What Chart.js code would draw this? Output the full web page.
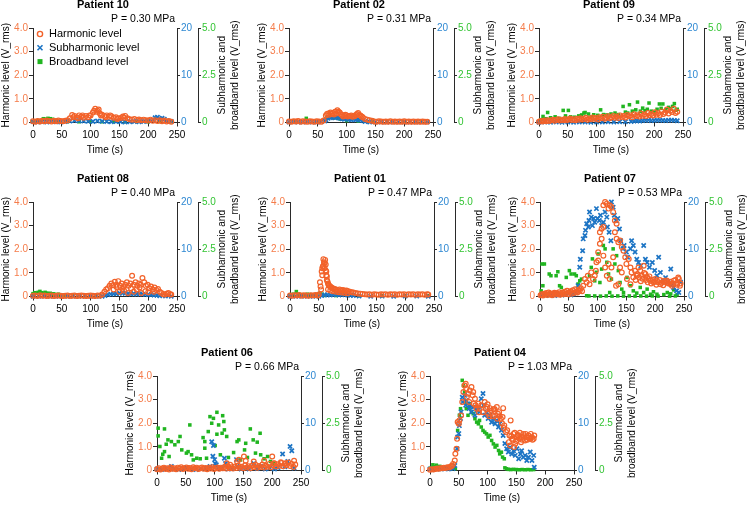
<!DOCTYPE html>
<html>
<head>
<meta charset="utf-8">
<script src="https://cdn.jsdelivr.net/npm/chart.js@4.4.1/dist/chart.umd.min.js"></script>
<style>
  body { margin: 0; background: #fff; width: 747px; height: 505px; position: relative; overflow: hidden; }
  .panel { position: absolute; width: 246px; height: 156px; }
</style>
</head>
<body>
<div class="panel" style="left:0px;top:0px"><canvas id="p10" width="246" height="156"></canvas></div>
<div class="panel" style="left:256px;top:0px"><canvas id="p02" width="246" height="156"></canvas></div>
<div class="panel" style="left:506px;top:0px"><canvas id="p09" width="246" height="156"></canvas></div>
<div class="panel" style="left:0px;top:174px"><canvas id="p08" width="246" height="156"></canvas></div>
<div class="panel" style="left:257px;top:174px"><canvas id="p01" width="246" height="156"></canvas></div>
<div class="panel" style="left:507px;top:174px"><canvas id="p07" width="246" height="156"></canvas></div>
<div class="panel" style="left:124px;top:348px"><canvas id="p06" width="246" height="156"></canvas></div>
<div class="panel" style="left:397px;top:348px"><canvas id="p04" width="246" height="156"></canvas></div>
<script>
// tick labels of the three y axes and the time axis
const harmTicks = ['0', '1.0', '2.0', '3.0', '4.0'];
const subTicks = ['0', '10', '20'];
const broadTicks = ['0', '2.5', '5.0'];
const timeTicks = ['0', '50', '100', '150', '200', '250'];

// [time (s), level]
// Patient 10
const p10Harm = [[0,0.05],[4,0.03],[8,0.06],[12,0.04],[16,0.07],[20,0.05],[24,0.08],[28,0.06],[32,0.04],[36,0.07],[40,0.05],[44,0.08],[48,0.06],[52,0.05],[56,0.07],[60,0.09],[64,0.18],[68,0.32],[72,0.28],[76,0.22],[80,0.30],[84,0.25],[88,0.20],[92,0.27],[96,0.22],[100,0.30],[104,0.42],[108,0.58],[112,0.50],[116,0.38],[120,0.33],[124,0.28],[128,0.30],[132,0.24],[136,0.26],[140,0.20],[144,0.22],[148,0.17],[152,0.19],[156,0.25],[160,0.28],[164,0.18],[168,0.14],[172,0.12],[176,0.15],[180,0.10],[184,0.13],[188,0.09],[192,0.12],[196,0.10],[200,0.08],[204,0.12],[208,0.07],[212,0.10],[216,0.06],[220,0.09],[224,0.05],[228,0.08],[232,0.04],[236,0.06],[240,0.03],
  [70,0.22],[78,0.18],[86,0.3],[98,0.3],[106,0.5],[110,0.45],[114,0.55],[118,0.3],[126,0.22],[134,0.3],[146,0.15],[158,0.2]];
const p10Sub = [[0,0.2],[8,0.1],[16,0.15],[24,0.1],[32,0.2],[40,0.15],[48,0.1],[56,0.2],[64,0.3],[72,0.4],[80,0.35],[88,0.3],[96,0.25],[104,0.2],[112,0.3],[120,0.25],[128,0.2],[136,0.15],[144,0.2],[152,0.15],[160,0.1],[168,0.15],[176,0.2],[184,0.15],[192,0.2],[200,0.3],[208,0.6],[212,1.0],[216,1.1],[220,0.8],[224,0.9],[228,0.7],[232,0.4],[240,0.2]];
const p10Broad = [[0,0.05],[6,0.08],[12,0.1],[18,0.2],[22,0.18],[26,0.22],[30,0.2],[34,0.17],[38,0.12],[44,0.06],[60,0.05],[80,0.04],[100,0.05],[120,0.04],[140,0.05],[160,0.04],[180,0.05],[200,0.04],[220,0.05],[240,0.04]];

// Patient 02
const p02Harm = [[0,0.04],[4,0.03],[8,0.05],[12,0.04],[16,0.06],[20,0.03],[24,0.05],[28,0.04],[32,0.03],[36,0.05],[40,0.04],[44,0.03],[48,0.05],[52,0.04],[56,0.03],[60,0.08],[64,0.30],[68,0.38],[72,0.42],[76,0.40],[80,0.45],[84,0.52],[88,0.42],[92,0.32],[96,0.28],[100,0.30],[104,0.27],[108,0.30],[112,0.28],[116,0.32],[120,0.40],[124,0.30],[128,0.22],[132,0.15],[136,0.12],[140,0.10],[144,0.07],[148,0.04],[152,0.03],[156,0.05],[160,0.04],[164,0.03],[168,0.04],[172,0.03],[176,0.05],[180,0.03],[184,0.04],[188,0.03],[192,0.04],[196,0.03],[200,0.05],[204,0.03],[208,0.04],[212,0.03],[216,0.04],[220,0.03],[224,0.04],[228,0.03],[232,0.04],[236,0.03],[240,0.03],
  [66,0.36],[70,0.33],[74,0.36],[78,0.34],[82,0.38],[86,0.45],[90,0.35],[94,0.25],[98,0.33],[102,0.25],[106,0.28],[110,0.24],[114,0.26],[118,0.36],[122,0.32],[126,0.25]];
const p02Sub = [[0,0.1],[8,0.15],[16,0.1],[24,0.1],[32,0.15],[40,0.1],[48,0.1],[56,0.15],[62,0.3],[64,0.6],[68,0.9],[72,1.0],[76,1.1],[80,1.0],[84,1.1],[88,0.9],[92,0.8],[96,0.7],[100,0.8],[104,0.7],[108,0.6],[112,0.7],[116,0.6],[120,0.7],[124,0.5],[128,0.4],[132,0.2],[140,0.1],[150,0.1],[160,0.1],[170,0.1],[180,0.1],[190,0.1],[200,0.1],[210,0.1],[220,0.1],[230,0.1],[240,0.1]];
const p02Broad = [[10,0.08],[30,0.22],[50,0.06],[66,0.25],[70,0.3],[74,0.28],[78,0.25],[82,0.3],[86,0.22],[90,0.18],[100,0.1],[120,0.08],[145,0.12],[170,0.05],[200,0.05],[230,0.05]];

// Patient 09
const p09Harm = [[0,0.03],[3,0.06],[6,0.04],[9,0.08],[12,0.05],[15,0.1],[18,0.06],[21,0.09],[24,0.12],[27,0.07],[30,0.11],[33,0.14],[36,0.08],[39,0.12],[42,0.1],[45,0.15],[48,0.09],[51,0.13],[54,0.17],[57,0.11],[60,0.14],[63,0.1],[66,0.16],[69,0.12],[72,0.18],[75,0.13],[78,0.15],[81,0.2],[84,0.12],[87,0.17],[90,0.14],[93,0.21],[96,0.16],[99,0.19],[102,0.13],[105,0.22],[108,0.18],[111,0.24],[114,0.16],[117,0.2],[120,0.26],[123,0.18],[126,0.22],[129,0.28],[132,0.2],[135,0.25],[138,0.19],[141,0.3],[144,0.23],[147,0.27],[150,0.21],[153,0.32],[156,0.26],[159,0.3],[162,0.22],[165,0.35],[168,0.27],[171,0.31],[174,0.25],[177,0.38],[180,0.29],[183,0.34],[186,0.27],[189,0.4],[192,0.31],[195,0.36],[198,0.3],[201,0.43],[204,0.33],[207,0.39],[210,0.32],[213,0.47],[216,0.36],[219,0.42],[222,0.55],[225,0.38],[228,0.5],[231,0.44],[234,0.58],[237,0.4],[240,0.46]];
const p09Sub = [[0,0.05],[10,0.1],[20,0.05],[30,0.1],[40,0.05],[50,0.1],[60,0.05],[70,0.1],[80,0.1],[90,0.05],[100,0.1],[110,0.1],[120,0.15],[130,0.1],[140,0.15],[150,0.15],[160,0.2],[165,0.3],[170,0.35],[175,0.3],[180,0.4],[185,0.45],[190,0.5],[195,0.4],[200,0.45],[205,0.5],[210,0.5],[215,0.45],[220,0.4],[225,0.5],[230,0.5],[235,0.45],[240,0.35]];
const p09Broad = [[3,0.15],[7,0.32],[12,0.2],[15,0.53],[20,0.25],[28,0.3],[35,0.22],[42,0.64],[46,0.35],[51,0.64],[55,0.3],[62,0.28],[69,0.35],[74,0.4],[78,0.5],[80,0.53],[86,0.45],[92,0.3],[95,0.41],[102,0.38],[107,0.67],[112,0.42],[118,0.4],[125,0.45],[132,0.5],[138,0.42],[146,0.85],[150,0.55],[154,0.5],[157,0.94],[162,0.6],[168,0.67],[171,1.08],[176,0.6],[180,0.76],[184,0.62],[188,0.7],[191,1.03],[195,0.6],[200,0.55],[205,0.7],[209,0.98],[212,0.75],[215,0.98],[220,0.68],[225,0.8],[228,0.72],[232,0.85],[235,1.0],[238,0.65],[240,0.7]];

// Patient 08
const p08Harm = [[0,0.03],[4,0.04],[8,0.02],[12,0.05],[16,0.03],[20,0.04],[24,0.02],[28,0.03],[32,0.04],[36,0.02],[40,0.03],[44,0.04],[48,0.03],[52,0.02],[56,0.03],[60,0.04],[64,0.02],[68,0.03],[72,0.04],[76,0.02],[80,0.03],[84,0.04],[88,0.03],[92,0.02],[96,0.03],[100,0.04],[104,0.03],[108,0.02],[112,0.04],[116,0.03],[120,0.08],[124,0.2],[127,0.3],[130,0.35],[133,0.45],[136,0.55],[139,0.48],[142,0.62],[145,0.5],[148,0.65],[151,0.45],[154,0.55],[157,0.4],[160,0.5],[163,0.6],[166,0.45],[169,0.55],[172,0.88],[175,0.5],[178,0.6],[181,0.45],[184,0.55],[187,0.5],[190,0.78],[193,0.6],[196,0.45],[199,0.5],[202,0.35],[205,0.42],[208,0.3],[211,0.38],[214,0.28],[217,0.32],[220,0.2],[223,0.15],[226,0.1],[229,0.08],[232,0.12],[235,0.15],[238,0.1],[240,0.08],
  [140,0.3],[145,0.4],[150,0.2],[155,0.32],[158,0.25],[165,0.15],[170,0.35],[175,0.2],[180,0.3],[185,0.38],[188,0.15],[195,0.22],[200,0.18],[210,0.2]];
const p08Sub = [[0,0.05],[10,0.05],[20,0.05],[30,0.05],[40,0.05],[50,0.05],[60,0.05],[70,0.05],[80,0.05],[90,0.05],[100,0.05],[110,0.05],[120,0.05],[125,0.2],[130,0.4],[135,0.5],[140,0.6],[145,0.6],[150,0.7],[155,0.75],[160,0.7],[165,0.6],[170,0.55],[175,0.6],[180,0.5],[185,0.55],[190,0.5],[195,0.45],[200,0.4],[205,0.35],[210,0.3],[215,0.25],[220,0.15],[230,0.1],[240,0.05]];
const p08Broad = [[0,0.15],[3,0.2],[6,0.18],[9,0.22],[12,0.27],[15,0.2],[18,0.17],[21,0.22],[24,0.18],[27,0.15],[30,0.17],[33,0.12],[36,0.14],[40,0.1],[44,0.12],[48,0.08],[55,0.05],[70,0.04],[90,0.04],[110,0.04]];

// Patient 01
const p01Harm = [[0,0.04],[4,0.03],[8,0.05],[12,0.04],[16,0.06],[20,0.03],[24,0.05],[28,0.04],[32,0.03],[36,0.05],[40,0.04],[44,0.06],[48,0.04],[50,0.08],[52,0.6],[53,0.42],[54,0.3],[55,1.06],[56,1.2],[57,1.27],[58,1.58],[59,1.45],[60,1.41],[61,1.55],[62,1.35],[63,1.06],[64,0.85],[65,0.64],[66,0.55],[67,0.5],[68,0.45],[70,0.42],[72,0.38],[74,0.35],[76,0.33],[78,0.31],[80,0.3],[83,0.28],[86,0.3],[89,0.26],[92,0.27],[95,0.24],[98,0.25],[101,0.22],[104,0.2],[107,0.18],[110,0.17],[114,0.15],[118,0.13],[122,0.12],[126,0.11],[130,0.1],[134,0.08],[138,0.09],[142,0.07],[146,0.1],[150,0.08],[154,0.07],[158,0.09],[162,0.08],[166,0.1],[170,0.07],[174,0.09],[178,0.08],[182,0.1],[186,0.07],[190,0.09],[194,0.08],[198,0.1],[202,0.07],[206,0.09],[210,0.08],[214,0.1],[218,0.07],[222,0.09],[226,0.08],[230,0.1],[234,0.07],[238,0.09],[240,0.08],
  [56,0.9],[58,1.3],[60,1.2],[62,1.1],[63,0.9],[64,0.7],[66,0.3],[70,0.25],[75,0.22],[80,0.2],[85,0.18],[90,0.17],[95,0.15],[100,0.14]];
const p01Sub = [[0,0.05],[10,0.05],[20,0.05],[30,0.05],[40,0.05],[50,0.05],[55,0.2],[60,0.3],[65,0.35],[70,0.3],[75,0.4],[80,0.35],[85,0.3],[90,0.4],[95,0.35],[100,0.3],[105,0.25],[110,0.2],[120,0.1],[140,0.05],[160,0.08],[180,0.05],[200,0.1],[220,0.08],[240,0.05]];
const p01Broad = [[2,0.1],[6,0.12],[11,0.26],[15,0.12],[20,0.1],[25,0.08],[30,0.12],[35,0.1],[40,0.08],[45,0.1],[52,0.18],[56,0.12],[60,0.06],[80,0.05],[120,0.04],[160,0.04],[200,0.04],[240,0.04]];

// Patient 07
const p07Harm = [[1,0.05],[3,0.1],[5,0.04],[7,0.12],[9,0.08],[11,0.15],[13,0.06],[15,0.17],[17,0.09],[19,0.13],[21,0.05],[23,0.11],[25,0.16],[27,0.08],[29,0.14],[31,0.1],[33,0.18],[35,0.07],[37,0.12],[39,0.17],[41,0.09],[43,0.2],[45,0.13],[47,0.24],[49,0.1],[51,0.18],[53,0.22],[55,0.12],[57,0.26],[59,0.15],[61,0.31],[63,0.2],[65,0.17],[67,0.28],[69,0.24],[71,0.35],[73,0.22],[75,0.45],
  [78,0.74],[81,0.6],[83,0.88],[86,0.52],[89,1.02],[92,0.74],[95,0.88],[97,1.09],[98,1.45],[101,1.52],[101,1.87],[104,2.23],[104,2.72],[107,2.87],[110,2.94],[110,3.86],[113,4.0],[116,3.93],[119,3.72],[121,3.86],[124,3.79],[127,3.57],[130,3.22],[133,3.08],[107,2.44],[110,1.73],[113,1.23],[116,0.88],[119,1.38],[121,0.74],[124,1.23],[127,1.66],[130,2.72],[133,2.44],[136,2.3],[139,2.37],[142,2.09],[145,1.94],[148,1.66],[150,1.38],[154,1.59],[157,1.23],[159,1.02],[162,0.81],[139,1.23],[142,1.02],[136,0.52],[132,0.45],[151,0.74],[157,0.52],[165,1.09],[168,0.88],[171,1.23],[174,1.09],[177,0.88],[180,1.3],[183,0.95],[186,0.81],[189,0.74],[192,0.67],[197,0.6],[200,0.74],[203,0.67],[209,0.52],[215,0.67],[221,0.6],[227,0.52],[232,0.67],[238,0.57],[243,0.45],[241,0.74],
  [166,0.7],[169,0.95],[172,0.8],[175,0.65],[178,0.75],[181,1.0],[184,0.7],[187,0.6],[190,0.85],[193,0.55],[196,0.7],[199,0.62],[202,0.5],[205,0.6],[208,0.7],[211,0.58],[214,0.48],[217,0.6],[220,0.68],[223,0.55],[226,0.62],[229,0.45],[232,0.55],[235,0.7],[238,0.5],[240,0.8],[244,0.55]];
const p07Sub = [[2,0.3],[6,0.5],[10,0.2],[14,0.4],[18,0.3],[22,0.6],[26,0.2],[30,0.4],[34,0.5],[38,0.3],[42,0.6],[46,0.4],[50,0.7],[54,0.3],[58,0.5],[62,0.85],[66,2.3],[69,6.2],[70,7.9],[74,9.7],[75,12.2],[78,12.9],[79,14],[81,15.4],[84,14.7],[85,16.1],[86,17.9],[89,16.8],[91,15],[93,16.5],[95,15.7],[98,18.6],[100,16.5],[103,16.1],[105,17.2],[107,15],[110,15.7],[113,17.9],[116,16.8],[117,14.7],[120,13.6],[123,11.8],[124,20],[127,18.9],[129,17.2],[132,16.1],[135,16.5],[138,14.3],[140,11.8],[144,10.1],[146,10.8],[150,9.4],[152,8.3],[157,10.1],[159,11.8],[162,10.8],[165,9.4],[168,7.9],[171,7.2],[175,6.5],[180,10.8],[183,7.9],[186,7.2],[190,6.2],[195,7.2],[199,5.5],[203,4.4],[206,8.3],[209,5.1],[214,3.3],[218,4],[222,3],[227,5.8],[230,2.6],[232,1.9],[237,1.2],[241,0.85],[244,3]];
const p07Broad = [[2,0.3],[3.5,1.72],[5,0.57],[7.6,1.72],[16,1.19],[19,1.1],[28,1.1],[31,1.31],[34,0.57],[37,0.48],[45.6,1.01],[51,1.37],[54,1.19],[60,1.19],[63,1.1],[66,0.66],[69,0.83],[72,0.92],[81,0.04],[86,1.1],[89,1.54],[91,1.99],[95,0.83],[98,1.28],[101,2.25],[104,0.74],[107,1.45],[110,2.7],[113,2.52],[116,1.81],[119,1.19],[121,0.21],[124,0.92],[127,2.52],[130,1.72],[133,2.16],[136,1.37],[139,0.74],[142,0.39],[145,0.21],[151,1.01],[157,0.57],[162,0.3],[168,0.18],[174,0.48],[180,0.21],[186,0.39],[192,0.12],[197,0.25],[203,0.12],[215,0.1],[221,0.21],[227,0.14],[232,0.35],[238,0.1],
  [85,0.03],[95,0.03],[105,0.02],[115,0.03],[125,0.02],[135,0.03],[145,0.02],[155,0.03],[165,0.02],[175,0.03],[185,0.02],[195,0.03],[205,0.02],[225,0.02],[235,0.03]];

// Patient 06
const p06Harm = [[0,0.05],[3,0.1],[6,0.04],[9,0.08],[12,0.12],[15,0.06],[18,0.1],[21,0.04],[24,0.13],[27,0.07],[30,0.1],[33,0.05],[36,0.12],[39,0.08],[42,0.14],[45,0.06],[48,0.1],[51,0.13],[54,0.07],[57,0.11],[60,0.05],[63,0.14],[66,0.09],[69,0.12],[72,0.06],[75,0.1],[78,0.13],[81,0.07],[84,0.11],[87,0.05],[90,0.12],[93,0.08],[96,0.14],[99,0.06],[102,0.1],[105,0.13],[108,0.07],[111,0.12],[114,0.09],[117,0.15],[120,0.08],[123,0.18],[126,0.1],[129,0.14],[132,0.08],[135,0.17],[138,0.11],[141,0.2],[144,0.12],[147,0.16],[150,0.1],[153,0.22],[156,0.13],[159,0.18],[162,0.1],[165,0.2],[168,0.14],[171,0.24],[174,0.12],[177,0.19],[180,0.15],[183,0.25],[186,0.13],[189,0.2],[192,0.16],[195,0.28],[198,0.14],[201,0.22],[204,0.3],[207,0.17],[210,0.26],[213,0.2],[216,0.32],[219,0.18],[222,0.27],[225,0.22],[228,0.34],[231,0.19],[234,0.28],[237,0.15],[240,0.25],
  [121,0.31],[127,0.24],[139,0.38],[142,0.45],[151,0.59],[154,0.41],[168,0.38],[186,0.41],[200,0.59],[203,0.31],[215,0.35],[223,0.31],[238,0.41]];
const p06Sub = [[0,0.3],[8,0.2],[16,0.4],[24,0.5],[25,0.85],[30,0.3],[38,0.2],[46,0.4],[52,0.6],[60,0.3],[68,0.2],[76,0.4],[84,0.5],[86,0.5],[92,0.85],[95,6.1],[97,3.0],[98,5.3],[100,2.3],[101,1.5],[103,1.2],[106,0.5],[112,0.4],[117,2.6],[119,1.5],[124,0.3],[130,0.4],[138,2.3],[139,0.85],[146,0.3],[154,0.5],[160,0.3],[168,1.5],[174,0.4],[180,0.85],[188,0.3],[196,0.5],[204,0.3],[210,0.6],[218,3.5],[222,0.8],[227,1.9],[231,5.1],[234,4.2],[238,0.5]];
const p06Broad = [[2,2.24],[2,1.83],[13,2.2],[5,1.27],[16,1.39],[8,0.65],[10,0.86],[13,1.0],[19,1.62],[21,0.74],[25,1.53],[31,1.36],[37,1.53],[40,1.8],[43,1.09],[51,0.92],[54,1.0],[57,2.41],[60,0.83],[63,0.56],[69,0.65],[75,0.62],[80,1.74],[83,1.53],[83,1.18],[86,0.65],[89,2.06],[92,2.85],[95,2.5],[98,2.76],[101,1.32],[104,3.08],[104,1.92],[107,2.41],[110,0.83],[113,1.97],[114,2.9],[116,2.59],[117,2.15],[121,1.8],[124,0.69],[133,0.95],[139,1.53],[142,1.62],[145,0.56],[152,1.09],[154,1.44],[157,0.69],[162,2.2],[167,1.62],[171,0.92],[174,1.5],[179,1.97],[180,0.83],[186,0.62],[192,0.74],[197,0.48],[203,0.39]];

// Patient 04
const p04Harm = [[0,0.03],[3,0.05],[6,0.04],[9,0.06],[12,0.08],[15,0.07],[18,0.1],[21,0.09],[24,0.12],[27,0.11],[30,0.14],[33,0.13],[36,0.17],[38,0.2],[40,0.28],[43,0.42],[44,0.71],[46,0.92],[47,1.34],[48,2.05],[50,1.98],[51,2.12],[54,2.33],[56,2.9],[58,3.32],[60,3.6],[62,3.67],[63,3.46],[64,3.11],[66,3.25],[68,2.9],[69,3.39],[72,3.53],[74,3.18],[75,3.32],[76,2.83],[78,3.04],[79,2.76],[81,2.61],[84,2.83],[85,2.47],[86,2.61],[89,2.76],[92,2.47],[95,2.9],[97,2.61],[99,2.69],[101,2.4],[104,2.64],[107,2.54],[110,2.59],[113,2.33],[116,2.69],[117,2.19],[120,2.47],[123,2.19],[126,2.26],[127,2.64],[129,1.91],[132,1.63],[134,1.7],[138,1.48],[140,2.12],[142,1.34],[145,1.55],[148,1.13],[150,1.41],[152,1.48],[155,1.34],[158,1.2],[159,1.41],[162,1.55],[165,1.27],[168,1.41],[171,1.48],[174,1.34],[177,1.41],[180,1.34],[181,1.48],
  [141,1.45],[144,1.3],[147,1.6],[150,1.25],[153,1.5],[156,1.6],[160,1.3],[163,1.45],[166,1.55],[169,1.3],[172,1.4],[175,1.55],[178,1.3],[137,1.2],[139,1.06],[146,0.99],[100,2.8],[103,2.3],[109,2.3],[112,2.6],[118,2.4],[121,2.3],[125,2.0],[128,1.8]];
const p04Sub = [[0,0.3],[4,0.2],[8,0.4],[12,0.3],[16,0.5],[20,0.3],[24,0.4],[28,0.6],[32,0.3],[36,0.5],[40,0.4],[43,1.06],[47,4.6],[48,7.1],[50,7.8],[51,9.5],[53,11],[54,12.4],[56,15.5],[57,14.5],[60,15.9],[62,13.8],[63,14.8],[66,14.1],[68,13.1],[69,13.8],[72,12.4],[75,13.4],[78,11.7],[81,12.7],[84,13.4],[86,12.4],[89,15.2],[92,16.3],[93,13.8],[95,11.7],[98,12.4],[101,11],[104,11.7],[107,10.2],[110,11],[113,9.9],[116,10.6],[119,9.2],[121,9.9],[124,8.5],[127,7.4],[130,5.7],[133,4.6],[136,3.9],[139,4.9],[142,3.5],[145,4.2],[148,3.2],[151,4.6],[154,2.5],[157,3.5],[159,4.2],[162,2.8],[165,3.2],[168,2.1],[171,2.8],[174,3.9],[177,2.1],[180,3.2],[181,0.7]];
const p04Broad = [[2,0.15],[5,0.3],[8,0.2],[11,0.28],[14,0.18],[17,0.22],[20,0.12],[24,0.15],[28,0.1],[32,0.12],[36,0.1],[40,0.12],[44,0.1],[48,2.12],[51,2.92],[53,3.27],[56,4.77],[58,4.5],[60,4.15],[62,3.62],[63,3.27],[66,2.92],[68,3.36],[69,3.53],[72,3.09],[75,3.0],[78,2.74],[81,2.56],[84,2.47],[86,2.65],[89,2.3],[92,2.12],[95,2.03],[98,1.94],[101,1.77],[104,1.86],[107,1.59],[110,1.41],[113,1.24],[116,1.33],[119,1.06],[121,0.88],[124,0.97],[126,0.71],[129,0.62],[130,0.14],[133,0.09],[136,0.06],[140,0.05],[145,0.06],[150,0.05],[155,0.04],[160,0.05],[165,0.04],[170,0.05],[175,0.04],[180,0.05]];

const panels = [
  { id: 'p10', title: 'Patient 10', pressure: 'P = 0.30 MPa', harm: p10Harm, sub: p10Sub, broad: p10Broad, legend: true },
  { id: 'p02', title: 'Patient 02', pressure: 'P = 0.31 MPa', harm: p02Harm, sub: p02Sub, broad: p02Broad },
  { id: 'p09', title: 'Patient 09', pressure: 'P = 0.34 MPa', harm: p09Harm, sub: p09Sub, broad: p09Broad },
  { id: 'p08', title: 'Patient 08', pressure: 'P = 0.40 MPa', harm: p08Harm, sub: p08Sub, broad: p08Broad },
  { id: 'p01', title: 'Patient 01', pressure: 'P = 0.47 MPa', harm: p01Harm, sub: p01Sub, broad: p01Broad },
  { id: 'p07', title: 'Patient 07', pressure: 'P = 0.53 MPa', harm: p07Harm, sub: p07Sub, broad: p07Broad },
  { id: 'p06', title: 'Patient 06', pressure: 'P = 0.66 MPa', harm: p06Harm, sub: p06Sub, broad: p06Broad },
  { id: 'p04', title: 'Patient 04', pressure: 'P = 1.03 MPa', harm: p04Harm, sub: p04Sub, broad: p04Broad }
];

const FONT = '"Liberation Sans", Arial, sans-serif';
const ORANGE = '#F2622A';
const ORANGE_T = '#F57C4A';
const BLUE = '#1C74C4';
const BLUE_T = '#2E88D2';
const GREEN = '#20B520';
const GREEN_T = '#33C433';
const AXIS = '#2a2a2a';

Chart.defaults.font.family = FONT;
Chart.defaults.font.size = 10;

const toXY = arr => arr.map(p => ({ x: p[0], y: p[1] }));

// panel title, pressure, the two-line right-hand axis title and the legend
const panelText = {
  id: 'panelText',
  afterDraw(chart, args, opts) {
    const { ctx, chartArea: a } = chart;
    ctx.save();
    ctx.fillStyle = '#000';
    ctx.textBaseline = 'middle';
    ctx.font = 'bold 11px ' + FONT;
    ctx.textAlign = 'center';
    ctx.fillText(opts.title, (a.left + a.right) / 2 - 2, a.top - 23);
    ctx.font = '10.5px ' + FONT;
    ctx.textAlign = 'right';
    ctx.fillText(opts.pressure, a.right - 2, a.top - 9);

    if (opts.legend) {
      ctx.font = '11px ' + FONT;
      ctx.textAlign = 'left';
      const mx = a.left + 7;
      const tx = a.left + 16;
      chart.data.datasets.forEach((ds, i) => {
        const y = a.top + 6 + i * 13.8;
        ctx.save();
        if (ds.pointStyle === 'circle') {
          ctx.strokeStyle = ds.pointBorderColor;
          ctx.lineWidth = 1.4;
          ctx.beginPath();
          ctx.arc(mx, y, 2.6, 0, Math.PI * 2);
          ctx.stroke();
        } else if (ds.pointStyle === 'crossRot') {
          ctx.strokeStyle = ds.pointBorderColor;
          ctx.lineWidth = 1.6;
          ctx.beginPath();
          ctx.moveTo(mx - 2.5, y - 2.5); ctx.lineTo(mx + 2.5, y + 2.5);
          ctx.moveTo(mx - 2.5, y + 2.5); ctx.lineTo(mx + 2.5, y - 2.5);
          ctx.stroke();
        } else {
          ctx.fillStyle = ds.pointBackgroundColor;
          ctx.fillRect(mx - 2.5, y - 2.5, 5, 5);
        }
        ctx.restore();
        ctx.fillText(ds.label, tx, y);
      });
    }

    const gx = chart.scales.y2.left;
    ctx.font = '10px ' + FONT;
    ctx.textAlign = 'center';
    ctx.translate(gx + 24.5, (a.top + a.bottom) / 2);
    ctx.rotate(-Math.PI / 2);
    ctx.fillText('Subharmonic and', 0, 0);
    ctx.fillText('broadband level (V_rms)', 0, 12.5);
    ctx.restore();
  }
};

function axisGrid(len) {
  return { drawOnChartArea: false, drawTicks: true, tickLength: len, color: AXIS, tickColor: AXIS };
}

panels.forEach(p => {
  new Chart(document.getElementById(p.id), {
    type: 'scatter',
    data: {
      datasets: [
        {
          label: 'Harmonic level',
          data: toXY(p.harm),
          yAxisID: 'y',
          pointStyle: 'circle',
          pointRadius: 2.4,
          pointBorderWidth: 1.2,
          pointBorderColor: ORANGE,
          pointBackgroundColor: 'rgba(255,255,255,0)',
          clip: false
        },
        {
          label: 'Subharmonic level',
          data: toXY(p.sub),
          yAxisID: 'y1',
          pointStyle: 'crossRot',
          pointRadius: 3,
          pointBorderWidth: 1.7,
          pointBorderColor: BLUE,
          pointBackgroundColor: BLUE,
          clip: false
        },
        {
          label: 'Broadband level',
          data: toXY(p.broad),
          yAxisID: 'y2',
          pointStyle: 'rect',
          pointRadius: 2.5,
          pointBorderWidth: 0,
          pointBorderColor: GREEN,
          pointBackgroundColor: GREEN,
          clip: false
        }
      ]
    },
    options: {
      responsive: false,
      animation: false,
      devicePixelRatio: 1,
      layout: { padding: { top: 28, left: 0, right: 0, bottom: 0 } },
      scales: {
        x: {
          type: 'linear',
          min: 0, max: 250,
          ticks: { stepSize: 50, color: '#000', padding: 3, callback: (v) => timeTicks[v / 50] },
          grid: axisGrid(4),
          border: { color: AXIS, width: 1 },
          title: { display: true, text: 'Time (s)', color: '#000', padding: 0, font: { size: 10 } },
          afterFit: s => { s.height = 33.5; }
        },
        y: {
          position: 'left',
          min: 0, max: 4,
          ticks: { stepSize: 1, color: ORANGE_T, padding: 1, callback: (v) => harmTicks[v] },
          grid: axisGrid(4),
          border: { color: AXIS, width: 1 },
          title: { display: true, text: 'Harmonic level (V_rms)', color: '#000', padding: 0, font: { size: 10 } },
          afterFit: s => { s.width = 33; }
        },
        y1: {
          position: 'right',
          min: 0, max: 20,
          ticks: { stepSize: 10, color: BLUE_T, padding: 1, callback: (v) => subTicks[v / 10] },
          grid: axisGrid(3),
          border: { color: AXIS, width: 1 },
          afterFit: s => { s.width = 21; }
        },
        y2: {
          position: 'right',
          min: 0, max: 5,
          ticks: { stepSize: 2.5, color: GREEN_T, padding: 1, callback: (v) => broadTicks[v / 2.5] },
          grid: axisGrid(3),
          border: { color: AXIS, width: 1 },
          afterFit: s => { s.width = 48; }
        }
      },
      plugins: {
        tooltip: { enabled: false },
        legend: { display: false },
        panelText: { title: p.title, pressure: p.pressure, legend: !!p.legend }
      }
    },
    plugins: [panelText]
  });
});
</script>
</body>
</html>
